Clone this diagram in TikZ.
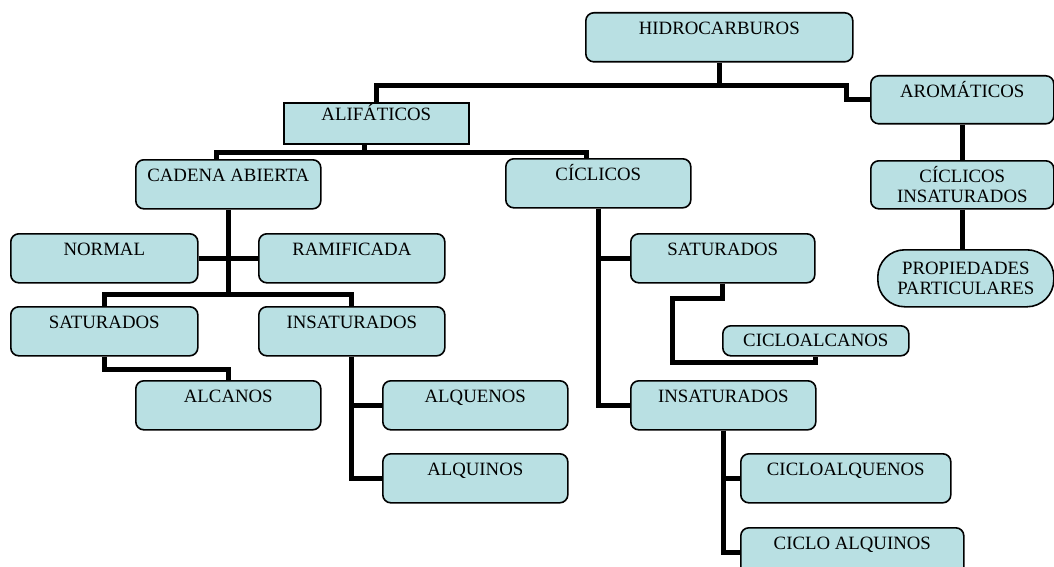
\documentclass[tikz,border=0pt]{standalone}
\usepackage{fontspec}
\setmainfont{Liberation Serif}
\usepackage{xcolor}
\usepackage{tikz}
\usetikzlibrary{positioning}

\definecolor{boxfill}{RGB}{185,224,227}

\begin{document}
\begin{tikzpicture}[
  x=1pt, y=-1pt,
  box/.style={draw, line width=1.6pt, rounded corners=8pt, fill=boxfill,
              anchor=north west, inner xsep=2pt, minimum width=#1,
              font=\fontsize{18.8}{20}\selectfont},
  box/.default=185pt,
  top/.style={inner ysep=9pt, text height=13pt, text depth=18pt},
  two/.style={align=center, inner ysep=2pt, minimum height=#1},
  two/.default=48pt,
  conn/.style={line width=5pt},
]
  \useasboundingbox (0,0) rectangle (1054,567);

  % top
  \node[box=267pt, top] (hidro) at (585,12) {HIDROCARBUROS};
  \node[box, top, rounded corners=0pt, inner ysep=5pt, text depth=18pt] (alif) at (283,102) {ALIFÁTICOS};
  \node[box=183pt, top, text depth=17pt] (arom) at (870,75) {AROMÁTICOS};

  % second row
  \node[box, top] (cadena) at (135,159) {CADENA ABIERTA};
  \node[box, top] (ciclicos) at (505,158) {CÍCLICOS};
  \node[box=183pt, two] (cicins) at (870,160) {CÍCLICOS\\INSATURADOS};
  \node[box=176pt, two=57pt, rounded corners=27pt] (prop) at (877,249) {PROPIEDADES\\PARTICULARES};

  % cadena abierta
  \node[box=187pt, top] (normal) at (10,233) {NORMAL};
  \node[box=186pt, top] (ramif) at (258,233) {RAMIFICADA};
  \node[box=187pt, top] (satL) at (10,306) {SATURADOS};
  \node[box=186pt, top] (insL) at (258,306) {INSATURADOS};
  \node[box, top] (alcanos) at (135,380) {ALCANOS};
  \node[box, top] (alquenos) at (382,380) {ALQUENOS};
  \node[box, top] (alquinos) at (382,453) {ALQUINOS};

  % ciclicos
  \node[box=184pt, top] (satR) at (630,233) {SATURADOS};
  \node[box=186pt, two=30pt] (cicloalc) at (722,325) {CICLOALCANOS};
  \node[box, top] (insR) at (630,380) {INSATURADOS};
  \node[box=210pt, top] (cicloalq) at (740,453) {CICLOALQUENOS};
  \node[box=223pt, top] (cicloalqui) at (740,527) {CICLO ALQUINOS};

  \coordinate (bend) at (672,362);

  \draw[conn] (hidro.south) -- ++(0,23) -| (alif.north);
  \draw[conn] (hidro.south) ++(0,23) -- ++(127.5,0) |- (arom.west);
  \draw[conn] ([xshift=-12pt]alif.south) -- ++(0,7.5) coordinate (b1) -| ([xshift=-12pt]cadena.north);
  \draw[conn] (b1) -| ([xshift=-12pt]ciclicos.north);
  \draw[conn] (arom.south) -- (cicins.north);
  \draw[conn] (cicins.south) -- (cicins.south |- prop.north);

  \draw[conn] (cadena.south) -- ++(0,85) coordinate (b2);
  \draw[conn] (normal) -- (ramif);
  \draw[conn] (b2) -| (satL.north);
  \draw[conn] (b2) -| (insL.north);
  \draw[conn] (satL.south) -- ++(0,13) -| (alcanos.north);
  \draw[conn] (insL.south) |- (alquenos.west);
  \draw[conn] (insL.south) |- (alquinos.west);

  \draw[conn] (ciclicos.south) |- (satR.west);
  \draw[conn] (ciclicos.south) |- (insR.west);
  \draw[conn] (satR.south) -- ++(0,15) -| (bend) -| (cicloalc.south);
  \draw[conn] (insR.south) |- (cicloalq.west);
  \draw[conn] (insR.south) |- (cicloalqui.west);
\end{tikzpicture}
\end{document}
